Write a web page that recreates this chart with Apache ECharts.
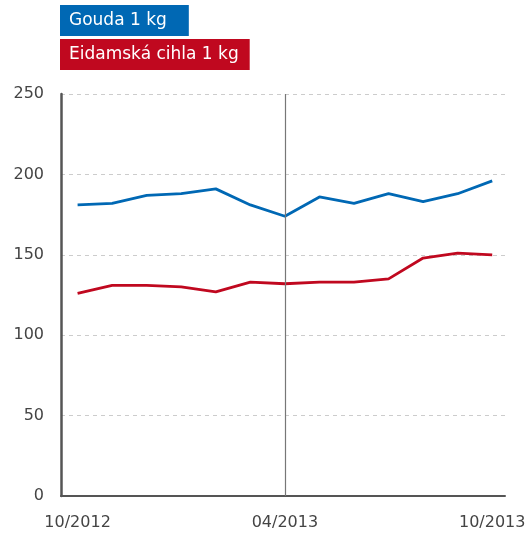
<!DOCTYPE html>
<html>
<head>
<meta charset="utf-8">
<script src="https://cdn.jsdelivr.net/npm/echarts@6/dist/echarts.min.js"></script>
<style>
  html, body { margin: 0; padding: 0; background: #fff; }
  #chart { width: 529px; height: 536px; }
</style>
</head>
<body>
<div id="chart"></div>
<script>
// Monthly prices, 10/2012 .. 10/2013 (Kč)
const months = ['10/2012','11/2012','12/2012','01/2013','02/2013','03/2013','04/2013',
                '05/2013','06/2013','07/2013','08/2013','09/2013','10/2013'];
const gouda = [181, 182, 187, 188, 191, 181, 174, 186, 182, 188, 183, 188, 196];
const eidam = [126, 131, 131, 130, 127, 133, 132, 133, 133, 135, 148, 151, 150];
const labelledMonths = [0, 6, 12];

const seriesNames = ['Gouda 1 kg', 'Eidamská cihla 1 kg'];
const colors = ['#0068b4', '#c0081f'];
const font = '"DejaVu Sans", sans-serif';

const toPairs = arr => arr.map((v, i) => [i, v]);

const chart = echarts.init(document.getElementById('chart'), null, { renderer: 'canvas' });
chart.setOption({
  animation: false,
  grid: { left: 61, right: 24, top: 94, bottom: 40 },
  xAxis: {
    type: 'value',
    min: -0.48,
    max: 12.37,
    axisLine: { show: true, onZero: false, lineStyle: { color: '#555', width: 2 } },
    axisTick: { show: false },
    splitLine: { show: false },
    axisLabel: {
      customValues: labelledMonths,
      formatter: v => months[v] || '',
      color: '#444', fontSize: 16, fontFamily: font, margin: 19
    }
  },
  yAxis: {
    type: 'value',
    min: 0, max: 250, interval: 50,
    axisLine: { show: true, onZero: false, lineStyle: { color: '#555', width: 2.5 } },
    axisTick: { show: false },
    splitLine: { show: true, lineStyle: { color: '#ccc', type: [4, 4], width: 1 } },
    axisLabel: { color: '#444', fontSize: 16, fontFamily: font, margin: 17 }
  },
  series: [
    {
      name: seriesNames[0], type: 'line', data: toPairs(gouda),
      symbol: 'none', lineStyle: { color: colors[0], width: 2.8 },
      markLine: {
        silent: true, symbol: 'none', label: { show: false },
        lineStyle: { color: '#777', width: 1.2, type: 'solid' },
        data: [{ xAxis: labelledMonths[1] }]
      }
    },
    {
      name: seriesNames[1], type: 'line', data: toPairs(eidam),
      symbol: 'none', lineStyle: { color: colors[1], width: 2.8 }
    }
  ],
  graphic: seriesNames.map((name, i) => ({
    type: 'text',
    left: 60,
    top: 5 + i * 34,
    style: {
      text: name,
      fill: '#fff',
      font: '17px ' + font,
      backgroundColor: colors[i],
      padding: [7, i === 0 ? 22 : 11, 7, 9]
    }
  }))
});
</script>
</body>
</html>
